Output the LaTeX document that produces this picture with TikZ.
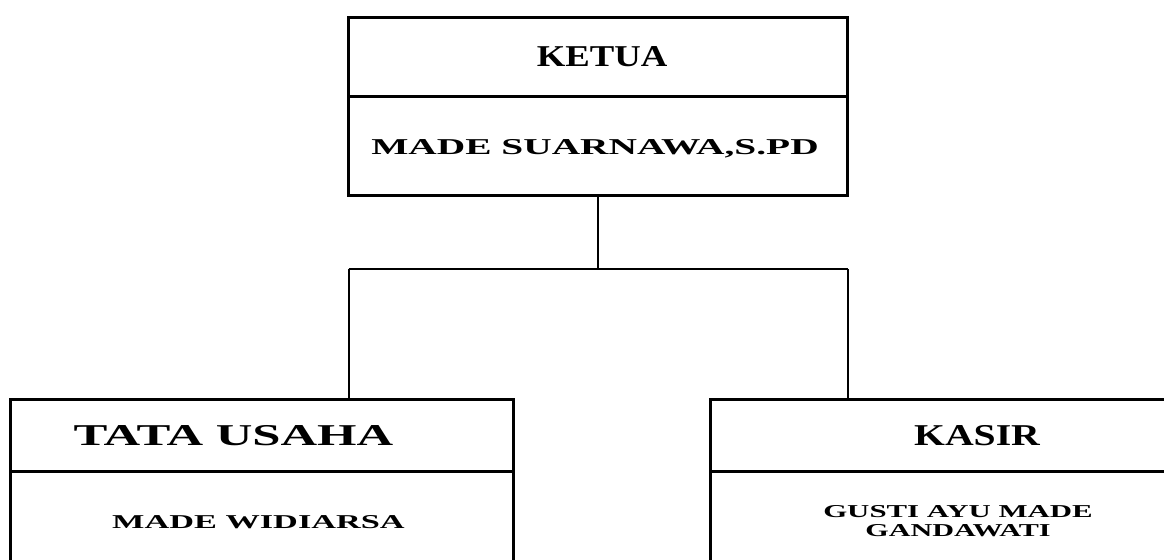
\documentclass[tikz,border=0pt]{standalone}
\usepackage{fontspec}
\setmainfont{Liberation Serif}[FakeStretch=1.25]
\newcommand{\wide}[2]{\scalebox{#1}[1]{#2}}
\begin{document}
\begin{tikzpicture}[x=0.75pt,y=-0.75pt,
  cell/.style={draw,line width=2.25pt,inner sep=0pt},
  label/.style={inner sep=0pt,align=center},
  title/.style={font=\bfseries\fontsize{22.7}{24}\selectfont},
  link/.style={draw,line width=1.5pt}]
\useasboundingbox (0,0) rectangle (1164,560);
\clip (0,0) rectangle (1164,560);

% Ketua box
\node[cell,minimum width=374.6pt,minimum height=59.25pt] (ketua) at (598.25,57.5) {};
\node[cell,minimum width=374.6pt,minimum height=73.5pt] (ketuaname) at (598.25,146) {};
\node[label,title] (tKetua) at (602,57) {\wide{0.97}{KETUA}};
\node[label,font=\bfseries\fontsize{17}{19}\selectfont] (tSuarnawa) at (595,149) {\wide{1.39}{MADE SUARNAWA,S.PD}};

% Tata usaha box
\node[cell,minimum width=377.25pt,minimum height=54pt] (tu) at (261.5,435) {};
\node[cell,minimum width=377.25pt,minimum height=76.5pt] (tuname) at (261.5,522) {};
\node[label,title] (tTU) at (233.5,436) {\wide{1.34}{TATA USAHA}};
\node[label,font=\bfseries\fontsize{14.7}{16}\selectfont] (tWidiarsa) at (258.5,522) {\wide{1.4}{MADE WIDIARSA}};

% Kasir box
\node[cell,minimum width=402pt,minimum height=54pt] (kasir) at (978,435) {};
\node[cell,minimum width=402pt,minimum height=76.5pt] (kasirname) at (978,522) {};
\node[label,title] (tKasir) at (977,436) {\wide{1.05}{KASIR}};
\node[label,font=\bfseries\fontsize{13.6}{13.8}\selectfont] (tGusti) at (958,521) {\wide{1.36}{GUSTI AYU MADE}\\\wide{1.33}{GANDAWATI}};

% Connectors
\coordinate (busmid) at (598.25,269);
\coordinate (busL) at (348.5,269);
\coordinate (busR) at (848,269);
\draw[link] (ketuaname.south) -- (busmid);
\draw[link] (busL) -- (busR);
\draw[link] (busL) -- (busL |- tu.north);
\draw[link] (busR) -- (busR |- kasir.north);
\end{tikzpicture}
\end{document}
